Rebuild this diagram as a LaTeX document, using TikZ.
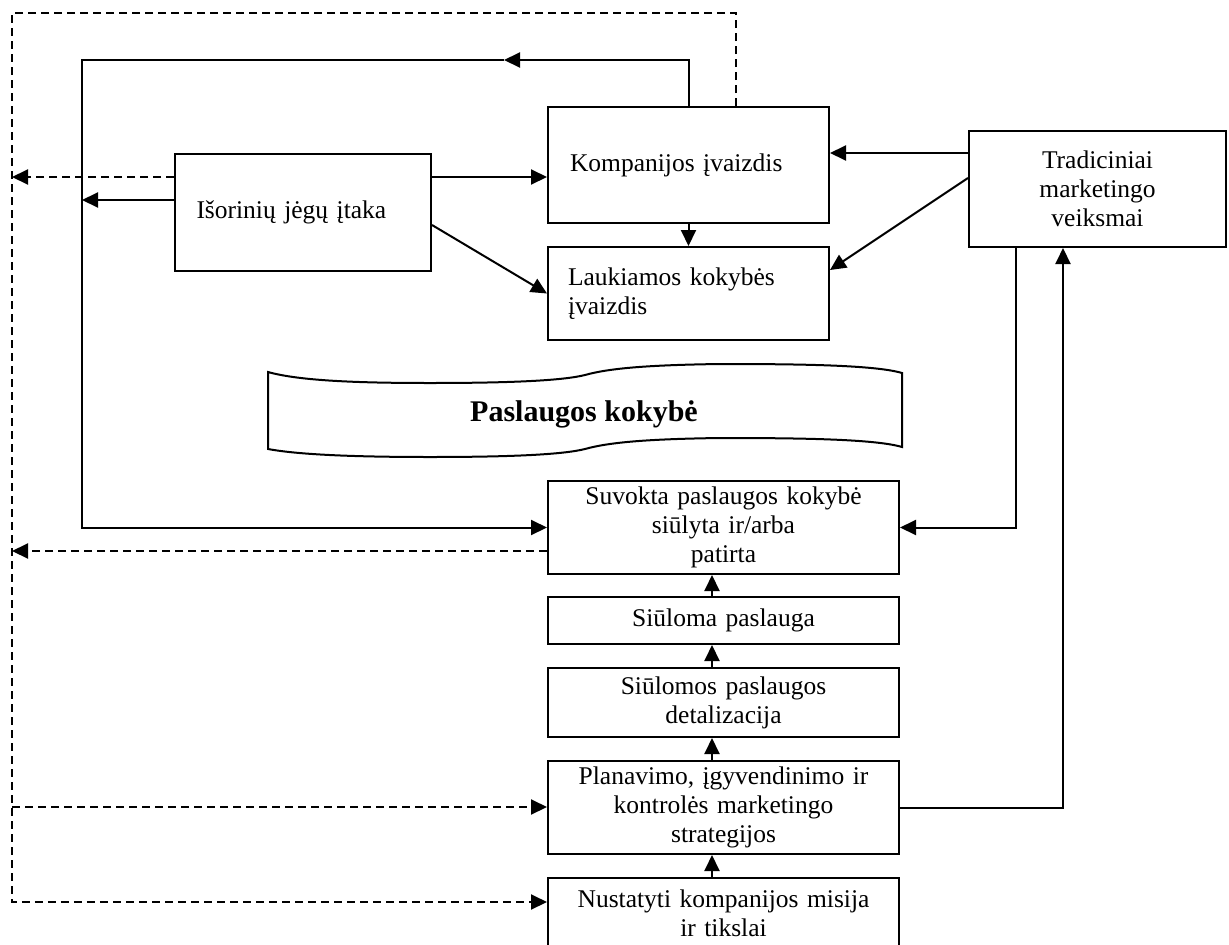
\documentclass[tikz,border=0pt]{standalone}
\usepackage{fontspec}
\setmainfont{Liberation Serif}
\usetikzlibrary{arrows.meta,calc}
\begin{document}
\begin{tikzpicture}[x=1pt,y=-1pt,
  txt/.style={font=\fontsize{25.5}{29}\selectfont},
  box/.style={txt, draw, line width=2pt, inner ysep=0pt},
  lbox/.style={box, align=left},
  cbox/.style={box, align=center, inner xsep=5pt},
  conn/.style={line width=2pt, -{Triangle[length=16pt,width=15pt]}},
  plain/.style={line width=2pt},
  dconn/.style={conn, dash pattern=on 8pt off 5pt}]

\useasboundingbox (0,0) rectangle (1229,945);
\clip (0,0) rectangle (1229,945);

% boxes
\node[lbox, text width=237pt, inner xsep=22pt, minimum height=116pt] (komp) at (688.5,165) {Kompanijos įvaizdis};
\node[lbox, text width=213pt, inner xsep=21.5pt, minimum height=117pt] (isor) at (303,212.5) {Išorinių jėgų įtaka};
\node[lbox, text width=241pt, inner xsep=20pt, minimum height=93pt] (lauk) at (688.5,293.5) {Laukiamos kokybės\\įvaizdis};
\node[cbox, text width=247pt, minimum height=116pt] (trad) at (1097.5,189) {Tradiciniai\\marketingo\\veiksmai};
\node[cbox, text width=341pt, minimum height=93pt] (suv) at (723.5,527.5) {Suvokta paslaugos kokybė\\siūlyta ir/arba\\patirta};
\node[cbox, text width=341pt, minimum height=47pt] (siul) at (723.5,620.5) {Siūloma paslauga};
\node[cbox, text width=341pt, minimum height=69pt] (det) at (723.5,702.5) {Siūlomos paslaugos\\detalizacija};
\node[cbox, text width=341pt, minimum height=93pt] (plan) at (723.5,807.5) {Planavimo, įgyvendinimo ir\\kontrolės marketingo\\strategijos};
\node[cbox, text width=341pt, minimum height=70pt] (nust) at (723.5,913) {Nustatyti kompanijos misija\\ir tikslai};

% wavy banner
\draw[plain]
  (268,372) .. controls (300,381) and (360,383) .. (430,383)
  .. controls (520,383) and (565,380) .. (585,375)
  .. controls (610,368) and (650,365) .. (720,364)
  .. controls (800,364) and (875,365) .. (902,373)
  -- (902,447)
  .. controls (875,439) and (800,438) .. (720,438)
  .. controls (650,439) and (610,442) .. (585,449)
  .. controls (565,454) and (520,457) .. (430,457)
  .. controls (360,457) and (300,455) .. (268,449)
  -- cycle;
\node[font=\bfseries\fontsize{30}{34}\selectfont] (pk) at (584,414) {Paslaugos kokybė};

% bend points
\coordinate (loopTR) at (689,60);
\coordinate (loopMid) at (504,60);
\coordinate (loopTL) at (82,60);
\coordinate (isorSolid) at (82,200);
\coordinate (dTR) at (736,13);
\coordinate (dTL) at (12,13);
\coordinate (dBL) at (12,902);
\coordinate (dIsor) at (12,177);
\coordinate (dSuv) at (12,551);
\coordinate (dPlan) at (12,807);
\coordinate (tradDown) at (1016,528);
\coordinate (planUp) at (1063,807);
\coordinate (ax) at (712,0);

% solid feedback loop from the company image
\draw[conn] (komp.north -| loopTR) |- (loopMid);
\draw[conn] (loopMid) -- (loopTL) |- (suv.west);

% dashed feedback loop
\draw[dconn] (komp.north -| dTR) -- (dTR) -- (dTL) -- (dBL) -- (nust.west |- dBL);
\draw[dconn] (isor.west |- dIsor) -- (dIsor);
\draw[dconn] (suv.west |- dSuv) -- (dSuv);
\draw[dconn] (dPlan) -- (plan.west |- dPlan);

% external forces
\draw[conn] (isor.west |- isorSolid) -- (isorSolid);
\draw[conn] (isor.east |- dIsor) -- (komp.west |- dIsor);
\draw[conn] ($(isor.east)+(0,12.5)$) -- (lauk.west);
\draw[conn] (komp.south) -- (lauk.north);

% traditional marketing
\draw[conn] ($(trad.west)+(0,-36)$) -- ($(komp.east)+(0,-12)$);
\draw[conn] ($(trad.west)+(0,-11)$) -- ($(lauk.east)+(0,-23.5)$);
\draw[conn] (trad.south -| tradDown) |- (suv.east);
\draw[conn] (plan.east) -| (trad.south -| planUp);

% vertical chain
\draw[conn] (siul.north -| ax) -- (suv.south -| ax);
\draw[conn] (det.north -| ax) -- (siul.south -| ax);
\draw[conn] (plan.north -| ax) -- (det.south -| ax);
\draw[conn] (nust.north -| ax) -- (plan.south -| ax);
\end{tikzpicture}
\end{document}
